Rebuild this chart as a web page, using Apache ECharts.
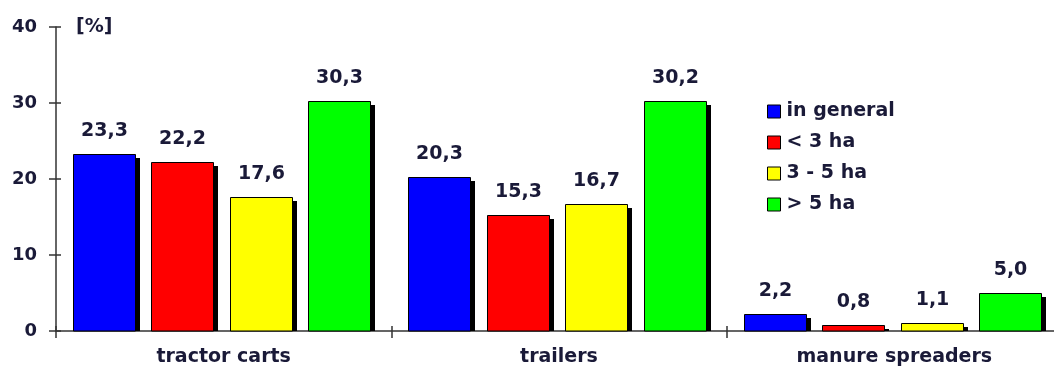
<!DOCTYPE html>
<html>
<head>
<meta charset="utf-8">
<script src="https://cdn.jsdelivr.net/npm/echarts@6/dist/echarts.min.js"></script>
<style>
  html, body { margin: 0; padding: 0; background: #fff; }
  #chart { width: 1054px; height: 369px; }
</style>
</head>
<body>
<div id="chart"></div>
<script>
// Machine categories and the share [%] for each farm-size group
const categories = ['tractor carts', 'trailers', 'manure spreaders'];
const seriesNames = ['in general', '< 3 ha', '3 - 5 ha', '> 5 ha'];
const inGeneral = [23.3, 20.3, 2.2];
const below3ha = [22.2, 15.3, 0.8];
const from3to5ha = [17.6, 16.7, 1.1];
const above5ha = [30.3, 30.2, 5.0];
const yTicks = [0, 10, 20, 30, 40];

const seriesValues = [inGeneral, below3ha, from3to5ha, above5ha];
const colors = ['#0000ff', '#ff0000', '#ffff00', '#00ff00'];
const textColor = '#1a1a38';
const fontFamily = '"DejaVu Sans", Verdana, sans-serif';

// Bar layout as fractions of one category band
const BAR_LEFT = 0.0507;
const BAR_STEP = 0.234;
const BAR_W = 0.1848;
const SHADOW_DX = 5, SHADOW_DY = 4;

function fmt(v) { return v.toFixed(1).replace('.', ','); }

function makeRenderer(si) {
  return function (params, api) {
    const cat = api.value(0);
    const val = api.value(1);
    const base = api.coord([cat, 0]);
    const top = api.coord([cat, val]);
    const band = api.size([1, 0])[0];
    const x = Math.round(base[0] - band / 2 + band * (BAR_LEFT + si * BAR_STEP)) + 0.5;
    const w = Math.round(band * BAR_W);
    const y = Math.round(top[1]) + 0.5;
    const h = Math.round(base[1]) - y;
    return {
      type: 'group',
      children: [
        {
          type: 'rect',
          shape: { x: x + SHADOW_DX - 0.5, y: y + SHADOW_DY - 0.5, width: w, height: Math.max(h - SHADOW_DY + 0.5, 0) },
          style: { fill: '#000' }
        },
        {
          type: 'rect',
          shape: { x: x, y: y, width: w, height: h },
          style: { fill: colors[si], stroke: '#000', lineWidth: 1 },
          textContent: {
            style: {
              text: fmt(val),
              fill: textColor,
              font: 'bold 19px ' + fontFamily
            }
          },
          textConfig: { position: 'top', distance: 13 }
        }
      ]
    };
  };
}

const series = seriesValues.map(function (vals, si) {
  return {
    name: seriesNames[si],
    type: 'custom',
    xAxisIndex: 0,
    yAxisIndex: 0,
    itemStyle: { color: colors[si] },
    encode: { x: 0, y: 1 },
    data: vals.map(function (v, ci) { return [ci, v]; }),
    renderItem: makeRenderer(si)
  };
});

const chart = echarts.init(document.getElementById('chart'), null, { renderer: 'canvas' });

chart.setOption({
  animation: false,
  backgroundColor: '#fff',
  // the plot runs a little past the right edge of the canvas
  grid: { left: 56, width: 1006, top: 27, bottom: 38, containLabel: false, outerBoundsMode: 'none' },
  legend: {
    orient: 'vertical',
    left: 762,
    top: 97,
    itemWidth: 13,
    itemHeight: 13,
    itemGap: 12,
    icon: 'rect',
    textStyle: { color: textColor, fontFamily: fontFamily, fontWeight: 'bold', fontSize: 19, padding: [0, 0, 0, 1] },
    data: seriesNames.map(function (n, i) {
      return { name: n, itemStyle: { color: colors[i], borderColor: '#000', borderWidth: 1 } };
    })
  },
  xAxis: [
    {
      type: 'category',
      data: categories,
      boundaryGap: true,
      axisLine: { show: true, lineStyle: { color: '#333', width: 1.5 } },
      axisTick: { show: true, length: 7, lineStyle: { color: '#333', width: 1.5 } },
      axisLabel: { color: textColor, fontFamily: fontFamily, fontWeight: 'bold', fontSize: 19, margin: 17 },
      splitLine: { show: false }
    },
    {
      type: 'category',
      data: categories,
      position: 'bottom',
      boundaryGap: true,
      axisLine: { show: false },
      axisTick: { show: true, inside: true, length: 5, lineStyle: { color: '#333', width: 1.5 } },
      axisLabel: { show: false },
      splitLine: { show: false }
    }
  ],
  yAxis: [
    {
      type: 'value',
      min: yTicks[0],
      max: yTicks[yTicks.length - 1],
      interval: yTicks[1] - yTicks[0],
      axisLine: { show: true, lineStyle: { color: '#333', width: 1.5 } },
      axisTick: { show: true, length: 7, lineStyle: { color: '#333', width: 1.5 } },
      axisLabel: { color: textColor, fontFamily: fontFamily, fontWeight: 'bold', fontSize: 18, margin: 19 },
      splitLine: { show: false }
    },
    {
      type: 'value',
      position: 'left',
      min: yTicks[0],
      max: yTicks[yTicks.length - 1],
      interval: yTicks[1] - yTicks[0],
      axisLine: { show: false },
      axisTick: { show: true, inside: true, length: 5, lineStyle: { color: '#333', width: 1.5 } },
      axisLabel: { show: false },
      splitLine: { show: false }
    }
  ],
  graphic: [
    {
      type: 'text',
      left: 76,
      top: 18,
      style: { text: '[%]', fill: textColor, font: 'bold 19px ' + fontFamily }
    }
  ],
  series: series
});
</script>
</body>
</html>
